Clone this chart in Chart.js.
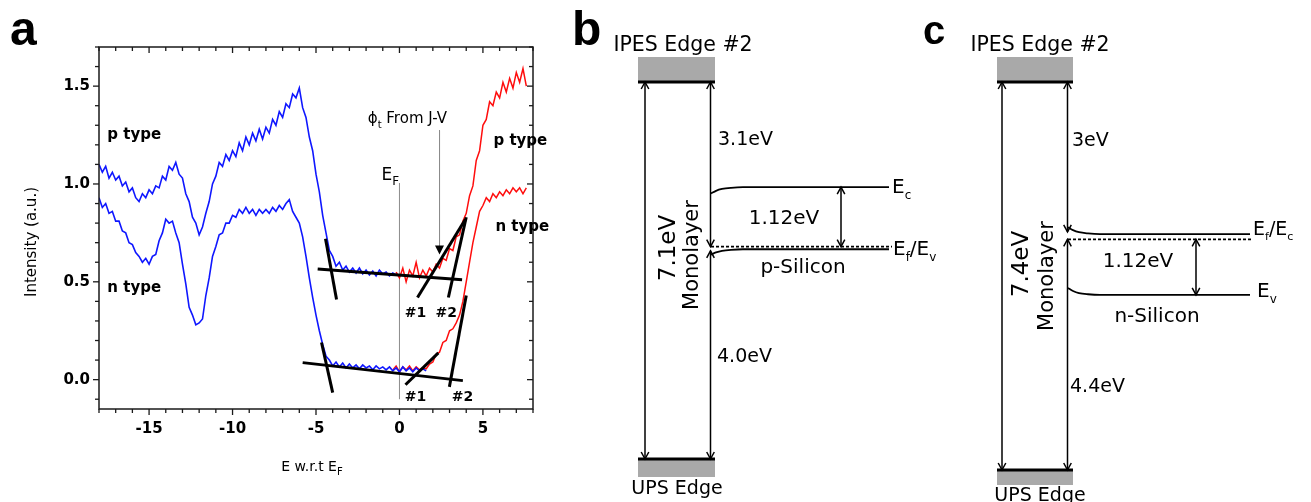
<!DOCTYPE html>
<html>
<head>
    <title>Spectra and band diagrams</title>
    <script src="https://cdn.jsdelivr.net/npm/chart.js"></script>
    <style>
        body { margin: 0; background: #fff; }
        #wrap { position: relative; width: 1311px; height: 502px; overflow: hidden; }
        #wrap canvas { position: absolute; top: 0; }
    </style>
</head>
<body>
<div id="wrap">
    <canvas id="chartA" width="560" height="502" style="left:0px"></canvas>
    <canvas id="chartB" width="420" height="502" style="left:560px"></canvas>
    <canvas id="chartC" width="406" height="502" style="left:905px"></canvas>
</div>
<script>
Chart.defaults.font.family = '"DejaVu Sans", sans-serif';
Chart.defaults.color = '#000';

// ---- panel a: spectra, energy in eV w.r.t. EF ----
const energyGrid = [
    -18, -17.8, -17.6, -17.4, -17.2, -17, -16.8, -16.6, -16.4, -16.2,
    -16, -15.8, -15.6, -15.4, -15.2, -15, -14.8, -14.6, -14.4, -14.2,
    -14, -13.8, -13.6, -13.4, -13.2, -13, -12.8, -12.6, -12.4, -12.2,
    -12, -11.8, -11.6, -11.4, -11.2, -11, -10.8, -10.6, -10.4, -10.2,
    -10, -9.8, -9.6, -9.4, -9.2, -9, -8.8, -8.6, -8.4, -8.2,
    -8, -7.8, -7.6, -7.4, -7.2, -7, -6.8, -6.6, -6.4, -6.2,
    -6, -5.8, -5.6, -5.4, -5.2, -5, -4.8, -4.6, -4.4, -4.2,
    -4, -3.8, -3.6, -3.4, -3.2, -3, -2.8, -2.6, -2.4, -2.2,
    -2, -1.8, -1.6, -1.4, -1.2, -1, -0.8, -0.6, -0.4, -0.2,
    0, 0.2, 0.4, 0.6, 0.8, 1, 1.2, 1.4, 1.6, 1.8,
    2, 2.2, 2.4, 2.6, 2.8, 3, 3.2, 3.4, 3.6, 3.8,
    4, 4.2, 4.4, 4.6, 4.8, 5, 5.2, 5.4, 5.6, 5.8,
    6, 6.2, 6.4, 6.6, 6.8, 7, 7.2, 7.4, 7.6
];

// p type, UPS part (from energyGrid[0])
const pTypeBlue = [
    1.10, 1.06, 1.09, 1.03, 1.06, 1.02, 1.04, 0.99, 1.01, 0.96,
    0.98, 0.93, 0.91, 0.95, 0.93, 0.97, 0.95, 0.99, 0.98, 1.04,
    1.02, 1.09, 1.07, 1.11, 1.05, 1.03, 0.95, 0.91, 0.83, 0.80,
    0.74, 0.78, 0.85, 0.91, 1.00, 1.04, 1.11, 1.09, 1.15, 1.12,
    1.17, 1.14, 1.21, 1.17, 1.24, 1.20, 1.26, 1.22, 1.28, 1.23,
    1.29, 1.26, 1.33, 1.30, 1.37, 1.34, 1.41, 1.39, 1.46, 1.44,
    1.49, 1.39, 1.34, 1.24, 1.17, 1.05, 0.96, 0.84, 0.75, 0.66,
    0.63, 0.58, 0.60, 0.56, 0.58, 0.55, 0.57, 0.545, 0.57, 0.54,
    0.56, 0.535, 0.555, 0.53, 0.56, 0.54, 0.55, 0.53, 0.545, 0.535
];
// p type, IPES part (from energyGrid[pRedStart])
const pTypeRed = [
    0.55, 0.52, 0.57, 0.50, 0.56, 0.53, 0.60, 0.52, 0.56, 0.53,
    0.57, 0.55, 0.59, 0.57, 0.62, 0.61, 0.67, 0.66, 0.73, 0.74,
    0.81, 0.85, 0.94, 0.99, 1.12, 1.17, 1.30, 1.33, 1.42, 1.40,
    1.47, 1.44, 1.52, 1.47, 1.54, 1.49, 1.57, 1.52, 1.59, 1.50
];
// n type, UPS part (from energyGrid[0])
const nTypeBlue = [
    0.93, 0.88, 0.90, 0.85, 0.86, 0.81, 0.81, 0.76, 0.75, 0.70,
    0.69, 0.65, 0.63, 0.60, 0.62, 0.59, 0.63, 0.64, 0.71, 0.75,
    0.82, 0.80, 0.81, 0.75, 0.70, 0.59, 0.49, 0.37, 0.33, 0.28,
    0.29, 0.31, 0.43, 0.52, 0.63, 0.68, 0.74, 0.75, 0.80, 0.80,
    0.84, 0.83, 0.87, 0.85, 0.88, 0.85, 0.87, 0.84, 0.87, 0.85,
    0.87, 0.85, 0.88, 0.86, 0.89, 0.87, 0.90, 0.92, 0.86, 0.83,
    0.80, 0.73, 0.63, 0.52, 0.42, 0.33, 0.25, 0.18, 0.12, 0.10,
    0.07, 0.09, 0.065, 0.085, 0.06, 0.08, 0.06, 0.075, 0.055, 0.075,
    0.06, 0.07, 0.05, 0.07, 0.055, 0.065, 0.05, 0.065, 0.045, 0.06,
    0.04, 0.065, 0.045, 0.06, 0.04, 0.06, 0.045, 0.055, 0.045
];
// n type, IPES part (from energyGrid[nRedStart])
const nTypeRed = [
    0.05, 0.07, 0.04, 0.065, 0.05, 0.07, 0.045, 0.065, 0.05, 0.06,
    0.055, 0.08, 0.09, 0.13, 0.14, 0.19, 0.20, 0.25, 0.26, 0.29,
    0.33, 0.40, 0.50, 0.60, 0.70, 0.78, 0.86, 0.89, 0.93, 0.91,
    0.95, 0.93, 0.96, 0.94, 0.97, 0.95, 0.98, 0.96, 0.98, 0.95,
    0.98
];
const pRedStart = 89;
const nRedStart = 88;

// straight-line fits for the edges: [start, end] energy and intensity
const fitE = [[-4.9, 3.75], [-4.43, -3.77], [1.08, 3.95], [2.93, 4.0],
              [-5.8, 3.8], [-4.67, -4.0], [0.36, 2.33], [2.99, 4.0]];
const fitI = [[0.566, 0.51], [0.72, 0.41], [0.42, 0.82], [0.42, 0.83],
              [0.087, -0.005], [0.19, -0.066], [-0.026, 0.137], [-0.037, 0.43]];

// markers: EF and the work function from J-V
const efLineI = [-0.10, 1.005];
const phiE = 2.4;
const phiLineI = [1.275, 0.64];

const xTicks = [-15, -10, -5, 0, 5];
const yTicks = [0, 0.5, 1.0, 1.5];

// ---- panels b, c: levels in eV above the UPS edge ----
// IPES edge, Ec, Ef, Ev, UPS edge
const bLevels = [7.1, 5.12, 4.0, 3.95, 0];
const cLevels = [7.4, 4.5, 4.4, 3.34, 0];
// where the right-hand arrow is split (upper arrow end, lower arrow start)
const bSplit = [4.0, 3.92];
const cSplit = [4.54, 4.4];
// 1.12 eV gap arrow (top, bottom)
const bGap = [5.12, 4.0];
const cGap = [4.4, 3.34];
// band bending near the monolayer
const bEcBend = [-0.12, -0.07, -0.035, -0.012, 0];
const bEvBend = [-0.10, -0.06, -0.03, -0.01, 0];
const cEcBend = [0.13, 0.075, 0.035, 0.012, 0];
const cEvBend = [0.13, 0.075, 0.035, 0.012, 0];

const blue = '#0f17ff';
const red = '#ff0d0d';

function drawRich(ctx, parts, x, y, o) {
    const size = o.size;
    const sub = o.sub || Math.round(size * 0.65);
    const fam = o.family || '"DejaVu Sans"';
    const font = s => (o.weight || 'normal') + ' ' + s + 'px ' + fam;
    let w = 0;
    parts.forEach(p => { ctx.font = font(p[1] ? sub : size); w += ctx.measureText(p[0]).width; });
    ctx.save();
    ctx.translate(x, y);
    if (o.rotate) ctx.rotate(o.rotate);
    let cx = o.align === 'center' ? -w / 2 : (o.align === 'right' ? -w : 0);
    ctx.textAlign = 'left';
    ctx.textBaseline = o.baseline || 'middle';
    ctx.fillStyle = '#000';
    parts.forEach(p => {
        ctx.font = font(p[1] ? sub : size);
        ctx.fillText(p[0], cx, p[1] ? size * 0.38 : 0);
        cx += ctx.measureText(p[0]).width;
    });
    ctx.restore();
}

function curve(vals, start) {
    return vals.map((v, i) => ({ x: energyGrid[start + i], y: v }));
}

// text positions for panel a, in data units
const aTexts = [
    { t: [['p type']], e: -17.5, i: 1.25, size: 15, weight: 'bold' },
    { t: [['n type']], e: -17.5, i: 0.47, size: 15, weight: 'bold' },
    { t: [['p type']], e: 5.63, i: 1.22, size: 15, weight: 'bold' },
    { t: [['n type']], e: 5.75, i: 0.78, size: 15, weight: 'bold' },
    { t: [['E'], ['F', 1]], e: -0.55, i: 1.045, size: 17, sub: 12, align: 'center' },
    { t: [['\u03d5'], ['t', 1], [' From J-V']], e: -1.9, i: 1.33, size: 15, sub: 10 },
    { t: [['#1']], e: 0.96, i: 0.34, size: 14, weight: 'bold', align: 'center' },
    { t: [['#2']], e: 2.8, i: 0.34, size: 14, weight: 'bold', align: 'center' },
    { t: [['#1']], e: 0.96, i: -0.09, size: 14, weight: 'bold', align: 'center' },
    { t: [['#2']], e: 3.77, i: -0.09, size: 14, weight: 'bold', align: 'center' }
];

const frameA = {
    id: 'frameA',
    afterDatasetsDraw(chart) {
        const { ctx, scales: { x, y } } = chart;
        // arrow head of the J-V marker
        const tx = x.getPixelForValue(phiE), ty = y.getPixelForValue(phiLineI[1]);
        ctx.save();
        ctx.fillStyle = '#000';
        ctx.beginPath();
        ctx.moveTo(tx, ty);
        ctx.lineTo(tx - 4.5, ty - 9);
        ctx.lineTo(tx + 4.5, ty - 9);
        ctx.closePath();
        ctx.fill();
        ctx.restore();
    },
    afterDraw(chart) {
        const { ctx, chartArea: a, scales: { x, y } } = chart;
        ctx.save();
        ctx.strokeStyle = '#1a1a1a';
        ctx.lineWidth = 1.5;
        ctx.strokeRect(a.left, a.top, a.right - a.left, a.bottom - a.top);
        ctx.lineWidth = 1.3;
        const tick = (x1, y1, x2, y2) => { ctx.beginPath(); ctx.moveTo(x1, y1); ctx.lineTo(x2, y2); ctx.stroke(); };
        for (let v = Math.ceil(x.min); v <= x.max; v++) {
            const px = x.getPixelForValue(v), len = xTicks.includes(v) ? 6 : 4;
            tick(px, a.bottom, px, a.bottom + len);
            tick(px, a.top, px, a.top + len);
        }
        for (let k = Math.ceil(y.min * 10); k <= Math.floor(y.max * 10 + 1e-6); k++) {
            const py = y.getPixelForValue(k / 10), len = (k % 5 === 0) ? 6 : 4;
            tick(a.left - len, py, a.left, py);
            tick(a.right - len, py, a.right, py);
        }
        ctx.restore();

        aTexts.forEach(s => drawRich(ctx, s.t, x.getPixelForValue(s.e), y.getPixelForValue(s.i), s));
        drawRich(ctx, [['Intensity (a.u.)']], 32, 242, { size: 15, align: 'center', rotate: -Math.PI / 2 });
        drawRich(ctx, [['E w.r.t E'], ['F', 1]], 312, 467, { size: 14, align: 'center', sub: 10 });
        drawRich(ctx, [['a']], 10, 45, { size: 48, weight: 'bold', family: '"Liberation Sans"', baseline: 'alphabetic' });
    }
};

const lineSet = (data, color, width, extra) => Object.assign({
    data: data, showLine: true, borderColor: color, borderWidth: width,
    pointRadius: 0, fill: false, tension: 0
}, extra || {});

new Chart(document.getElementById('chartA'), {
    type: 'scatter',
    data: {
        datasets: [
            ...fitE.map((e, k) => lineSet([{ x: e[0], y: fitI[k][0] }, { x: e[1], y: fitI[k][1] }], '#000', 3)),
            lineSet(curve(pTypeBlue, 0), blue, 1.6),
            lineSet(curve(nTypeBlue, 0), blue, 1.6),
            lineSet(curve(pTypeRed, pRedStart), red, 1.5),
            lineSet(curve(nTypeRed, nRedStart), red, 1.5),
            lineSet([{ x: 0, y: efLineI[0] }, { x: 0, y: efLineI[1] }], '#8c8c8c', 1),
            lineSet([{ x: phiE, y: phiLineI[0] }, { x: phiE, y: phiLineI[1] + 0.03 }], '#8c8c8c', 1)
        ]
    },
    options: {
        animation: false,
        responsive: false,
        devicePixelRatio: 1,
        layout: { padding: { top: 47, right: 27, bottom: 0, left: 0 } },
        plugins: { legend: { display: false }, tooltip: { enabled: false } },
        scales: {
            x: {
                type: 'linear', min: -18, max: 8,
                afterBuildTicks: s => { s.ticks = xTicks.map(v => ({ value: v })); },
                afterFit: s => { s.height = 93; },
                grid: { display: false, drawTicks: false },
                border: { display: false },
                ticks: { padding: 11, color: '#000', font: { size: 15, weight: 'bold' } }
            },
            y: {
                type: 'linear', min: -0.15, max: 1.7,
                afterBuildTicks: s => { s.ticks = yTicks.map(v => ({ value: v })); },
                afterFit: s => { s.width = 99; },
                grid: { display: false, drawTicks: false },
                border: { display: false },
                ticks: { padding: 9, color: '#000', font: { size: 15, weight: 'bold' }, callback: v => v.toFixed(1) }
            }
        }
    },
    plugins: [frameA]
});

// ---- band diagrams ----
const bendDist = [0, 5, 11, 20, 32];

const arrowsPlugin = {
    id: 'arrows',
    beforeDatasetsDraw(chart) {
        const { ctx, scales: { x, y } } = chart;
        const L = chart.options.plugins.arrows.layout;
        const lv = chart.options.plugins.arrows.levels;
        const x0 = x.getPixelForValue(L.rect0), x1 = x.getPixelForValue(L.rect1);
        const yTop = y.getPixelForValue(lv[0]), yBot = y.getPixelForValue(lv[4]);
        ctx.save();
        ctx.fillStyle = '#a9a9a9';
        ctx.fillRect(x0, yTop - L.topH, x1 - x0, L.topH);
        ctx.fillRect(x0, yBot, x1 - x0, L.botH);
        ctx.restore();
    },
    afterDatasetsDraw(chart) {
        const ctx = chart.ctx;
        ctx.save();
        ctx.strokeStyle = '#000';
        ctx.lineWidth = 1.5;
        const head = (tip, from) => {
            const dx = tip.x - from.x, dy = tip.y - from.y, d = Math.hypot(dx, dy) || 1;
            const ux = dx / d, uy = dy / d, len = 7, half = 3.8;
            ctx.beginPath();
            ctx.moveTo(tip.x - ux * len - uy * half, tip.y - uy * len + ux * half);
            ctx.lineTo(tip.x, tip.y);
            ctx.lineTo(tip.x - ux * len + uy * half, tip.y - uy * len - ux * half);
            ctx.stroke();
        };
        chart.data.datasets.forEach((ds, i) => {
            if (!ds.arrows) return;
            const pts = chart.getDatasetMeta(i).data;
            head(pts[pts.length - 1], pts[0]);
            head(pts[0], pts[pts.length - 1]);
        });
        ctx.restore();
    },
    afterDraw(chart) {
        const o = chart.options.plugins.arrows;
        o.texts.forEach(s => drawRich(chart.ctx, s.t, s.x, s.y, s));
    }
};

function bandDiagram(id, width, lv, split, gap, ecBend, evBend, L, texts) {
    const [ipes, ec, ef, ev, ups] = lv;
    const bend = (level, offs) => offs.map((o, i) => ({ x: L.band0 + bendDist[i], y: level + o }))
        .concat([{ x: L.band1, y: level }]);
    const opts = { clip: false };
    const mono = { clip: false, cubicInterpolationMode: 'monotone' };
    new Chart(document.getElementById(id), {
        type: 'scatter',
        data: {
            datasets: [
                lineSet([{ x: L.rect0, y: ipes }, { x: L.rect1, y: ipes }], '#000', 3, opts),
                lineSet([{ x: L.rect0, y: ups }, { x: L.rect1, y: ups }], '#000', 3, opts),
                lineSet([{ x: L.left, y: ups }, { x: L.left, y: ipes }], '#000', 1.5, Object.assign({ arrows: true }, opts)),
                lineSet([{ x: L.right, y: ipes }, { x: L.right, y: split[0] }], '#000', 1.5, Object.assign({ arrows: true }, opts)),
                lineSet([{ x: L.right, y: split[1] }, { x: L.right, y: ups }], '#000', 1.5, Object.assign({ arrows: true }, opts)),
                lineSet(bend(ec, ecBend), '#000', 1.8, mono),
                lineSet(bend(ev, evBend), '#000', 1.8, mono),
                lineSet([{ x: L.band0, y: ef }, { x: L.dash1, y: ef }], '#000', 1.7, Object.assign({ borderDash: [3, 2] }, opts)),
                lineSet([{ x: L.gapX, y: gap[0] }, { x: L.gapX, y: gap[1] }], '#000', 1.5, Object.assign({ arrows: true }, opts))
            ]
        },
        options: {
            animation: false,
            responsive: false,
            devicePixelRatio: 1,
            layout: { padding: { top: L.top, bottom: 502 - L.bottom, left: 0, right: 0 } },
            plugins: {
                legend: { display: false }, tooltip: { enabled: false },
                arrows: { layout: L, levels: lv, texts: texts }
            },
            scales: {
                x: { type: 'linear', display: false, min: 0, max: width },
                y: { type: 'linear', display: false, min: ups, max: ipes }
            }
        },
        plugins: [arrowsPlugin]
    });
}

const rot = -Math.PI / 2;
bandDiagram('chartB', 420, bLevels, bSplit, bGap, bEcBend, bEvBend,
    { rect0: 78, rect1: 155, left: 85, right: 150.5, band0: 151, band1: 329, dash1: 332, gapX: 281,
      top: 82, bottom: 459, topH: 25, botH: 18 },
    [
        { t: [['b']], x: 12, y: 45, size: 48, weight: 'bold', family: '"Liberation Sans"', baseline: 'alphabetic' },
        { t: [['IPES Edge #2']], x: 123, y: 46, size: 20.5, align: 'center' },
        { t: [['3.1eV']], x: 158, y: 140, size: 19 },
        { t: [['E'], ['c', 1]], x: 332, y: 188, size: 20, sub: 12 },
        { t: [['1.12eV']], x: 224, y: 219, size: 20, align: 'center' },
        { t: [['E'], ['f', 1], ['/E'], ['v', 1]], x: 333, y: 250, size: 20, sub: 12 },
        { t: [['p-Silicon']], x: 243, y: 268, size: 20, align: 'center' },
        { t: [['7.1eV']], x: 109, y: 248, size: 23, align: 'center', rotate: rot },
        { t: [['Monolayer']], x: 133, y: 255, size: 21, align: 'center', rotate: rot },
        { t: [['4.0eV']], x: 157, y: 357, size: 19 },
        { t: [['UPS Edge']], x: 117, y: 489, size: 19, align: 'center' }
    ]);

bandDiagram('chartC', 406, cLevels, cSplit, cGap, cEcBend, cEvBend,
    { rect0: 92, rect1: 168, left: 97, right: 162.5, band0: 163, band1: 345, dash1: 347, gapX: 291,
      top: 82, bottom: 470, topH: 25, botH: 15 },
    [
        { t: [['c']], x: 18, y: 44, size: 40, weight: 'bold', family: '"Liberation Sans"', baseline: 'alphabetic' },
        { t: [['IPES Edge #2']], x: 135, y: 46, size: 20.5, align: 'center' },
        { t: [['3eV']], x: 167, y: 141, size: 19 },
        { t: [['E'], ['f', 1], ['/E'], ['c', 1]], x: 348, y: 230, size: 19, sub: 11 },
        { t: [['1.12eV']], x: 233, y: 262, size: 20, align: 'center' },
        { t: [['E'], ['v', 1]], x: 352, y: 292, size: 20, sub: 12 },
        { t: [['n-Silicon']], x: 252, y: 317, size: 20, align: 'center' },
        { t: [['7.4eV']], x: 117, y: 264, size: 23, align: 'center', rotate: rot },
        { t: [['Monolayer']], x: 143, y: 276, size: 21, align: 'center', rotate: rot },
        { t: [['4.4eV']], x: 165, y: 387, size: 19 },
        { t: [['UPS Edge']], x: 135, y: 496, size: 19, align: 'center' }
    ]);
</script>
</body>
</html>
